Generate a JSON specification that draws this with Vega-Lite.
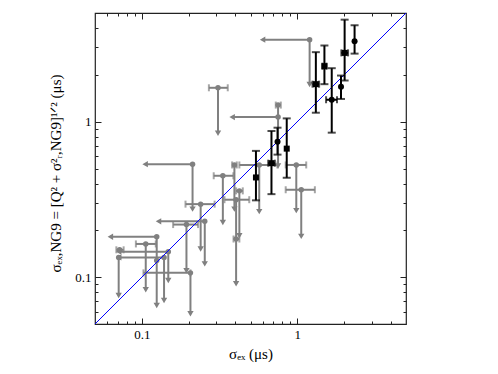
{
  "$schema": "https://vega.github.io/schema/vega-lite/v6.json",
  "width": 311,
  "height": 311,
  "autosize": {"type": "none"},
  "padding": {"left": 95, "top": 13, "right": 92, "bottom": 50},
  "config": {
    "view": {"stroke": "#222222", "strokeWidth": 1.2},
    "axis": {"domain": false, "grid": false, "tickColor": "#222222", "labelFont": "Liberation Serif", "labelFontSize": 13, "labelColor": "#000000", "titleFont": "Liberation Serif", "titleFontSize": 15, "titleFontWeight": "normal", "titleColor": "#000000"}
  },
  "datasets": {
    "diag": [{"v": 0.05}, {"v": 5}],
    "black": [
      {"x": 2.335, "y": 3.29, "ylo": 2.74, "yhi": 4.17, "m": "circle"},
      {"x": 2.015, "y": 2.77, "ylo": 1.84, "yhi": 4.53, "xlo": 1.92, "xhi": 2.12, "m": "square"},
      {"x": 1.91, "y": 1.68, "ylo": 1.40, "yhi": 1.98, "m": "circle"},
      {"x": 1.494, "y": 2.275, "ylo": 1.743, "yhi": 3.09, "xlo": 1.45, "xhi": 1.54, "m": "square"},
      {"x": 1.316, "y": 1.743, "ylo": 1.142, "yhi": 2.80, "xlo": 1.253, "xhi": 1.381, "m": "square"},
      {"x": 1.665, "y": 1.384, "ylo": 0.850, "yhi": 2.208, "xlo": 1.531, "xhi": 1.80, "m": "circle"},
      {"x": 0.855, "y": 0.671, "ylo": 0.436, "yhi": 1.05, "m": "square"},
      {"x": 0.746, "y": 0.744, "ylo": 0.614, "yhi": 0.915, "m": "circle"},
      {"x": 0.682, "y": 0.541, "ylo": 0.342, "yhi": 0.871, "xlo": 0.650, "xhi": 0.717, "m": "square"},
      {"x": 0.542, "y": 0.438, "ylo": 0.312, "yhi": 0.649, "m": "square"}
    ],
    "gray": [
      {"x": 1.20, "y": 3.37, "xlim": 0.598, "ylim": 1.735},
      {"x": 0.309, "y": 1.652, "xlo": 0.270, "xhi": 0.357, "ylim": 0.842},
      {"x": 0.752, "y": 1.279, "xlo": 0.727, "xhi": 0.783, "ylim": 0.519},
      {"x": 0.752, "y": 1.071, "xlim": 0.381},
      {"x": 0.212, "y": 0.533, "xlim": 0.105, "ylim": 0.274},
      {"x": 0.394, "y": 0.527, "xlo": 0.381, "xhi": 0.408, "ylim": 0.274},
      {"x": 0.569, "y": 0.527, "xlo": 0.424, "xhi": 0.745, "ylim": 0.264},
      {"x": 0.985, "y": 0.527, "xlo": 0.842, "xhi": 1.141, "ylim": 0.268},
      {"x": 1.06, "y": 0.365, "xlo": 0.842, "xhi": 1.297, "ylim": 0.183},
      {"x": 0.332, "y": 0.449, "xlo": 0.290, "xhi": 0.388, "ylim": 0.225},
      {"x": 0.424, "y": 0.359, "xlo": 0.404, "xhi": 0.446, "ylim": 0.185},
      {"x": 0.404, "y": 0.315, "xlo": 0.340, "xhi": 0.491, "ylim": 0.0906},
      {"x": 0.404, "y": 0.176, "xlo": 0.389, "xhi": 0.424},
      {"x": 0.239, "y": 0.295, "xlo": 0.191, "xhi": 0.294, "ylim": 0.152},
      {"x": 0.254, "y": 0.2286, "xlim": 0.128, "ylim": 0.1218},
      {"x": 0.1937, "y": 0.218, "xlo": 0.159, "xhi": 0.230, "ylim": 0.110},
      {"x": 0.1247, "y": 0.182, "xlim": 0.0628, "ylim": 0.0658},
      {"x": 0.106, "y": 0.1636, "xlo": 0.0916, "xhi": 0.123, "ylim": 0.083},
      {"x": 0.072, "y": 0.150, "xlo": 0.0686, "xhi": 0.0764},
      {"x": 0.148, "y": 0.146, "xlim": 0.071, "ylim": 0.0952},
      {"x": 0.139, "y": 0.134, "xlim": 0.071, "ylim": 0.0709},
      {"x": 0.071, "y": 0.134, "ylim": 0.0763},
      {"x": 0.1247, "y": 0.128},
      {"x": 0.2055, "y": 0.1066, "xlo": 0.1025, "xhi": 0.2055, "ylim": 0.0582}
    ]
  },
  "resolve": {"axis": {"x": "independent", "y": "independent"}},
  "layer": [
    {
      "data": {"name": "gray"},
      "transform": [{"filter": "isValid(datum.xlo)"}],
      "mark": {"type": "rule", "color": "#808080", "strokeWidth": 2},
      "encoding": {
        "x": {"field": "xlo", "type": "quantitative", "scale": {"type": "log", "domain": [0.05, 5], "nice": false},
              "axis": {"orient": "bottom", "values": [0.06, 0.07, 0.08, 0.09, 0.2, 0.3, 0.4, 0.5, 0.6, 0.7, 0.8, 0.9, 2, 3, 4], "labels": false, "tickSize": -3, "title": null}},
        "x2": {"field": "xhi"},
        "y": {"field": "y", "type": "quantitative", "scale": {"type": "log", "domain": [0.05, 5], "nice": false},
              "axis": {"orient": "left", "values": [0.06, 0.07, 0.08, 0.09, 0.2, 0.3, 0.4, 0.5, 0.6, 0.7, 0.8, 0.9, 2, 3, 4], "labels": false, "tickSize": -3, "title": null}}
      }
    },
    {
      "data": {"name": "gray"},
      "transform": [{"filter": "isValid(datum.xlo)"}],
      "mark": {"type": "tick", "orient": "vertical", "color": "#808080", "size": 7, "thickness": 2},
      "encoding": {
        "x": {"field": "xlo", "type": "quantitative", "scale": {"type": "log", "domain": [0.05, 5], "nice": false},
              "axis": {"orient": "top", "values": [0.1, 1], "labels": false, "tickSize": -6, "title": null}},
        "y": {"field": "y", "type": "quantitative", "scale": {"type": "log", "domain": [0.05, 5], "nice": false},
              "axis": {"orient": "right", "values": [0.1, 1], "labels": false, "tickSize": -6, "title": null}}
      }
    },
    {
      "data": {"name": "gray"},
      "transform": [{"filter": "isValid(datum.xhi)"}],
      "mark": {"type": "tick", "orient": "vertical", "color": "#808080", "size": 7, "thickness": 2},
      "encoding": {
        "x": {"field": "xhi", "type": "quantitative", "scale": {"type": "log", "domain": [0.05, 5], "nice": false},
              "axis": {"orient": "top", "values": [0.06, 0.07, 0.08, 0.09, 0.2, 0.3, 0.4, 0.5, 0.6, 0.7, 0.8, 0.9, 2, 3, 4], "labels": false, "tickSize": -3, "title": null}},
        "y": {"field": "y", "type": "quantitative", "scale": {"type": "log", "domain": [0.05, 5], "nice": false},
              "axis": {"orient": "right", "values": [0.06, 0.07, 0.08, 0.09, 0.2, 0.3, 0.4, 0.5, 0.6, 0.7, 0.8, 0.9, 2, 3, 4], "labels": false, "tickSize": -3, "title": null}}
      }
    },
    {
      "data": {"name": "gray"},
      "transform": [{"filter": "isValid(datum.xlim)"}],
      "mark": {"type": "rule", "color": "#808080", "strokeWidth": 2},
      "encoding": {
        "x": {"field": "xlim", "type": "quantitative", "scale": {"type": "log", "domain": [0.05, 5], "nice": false}, "axis": null},
        "x2": {"field": "x"},
        "y": {"field": "y", "type": "quantitative", "scale": {"type": "log", "domain": [0.05, 5], "nice": false}, "axis": null}
      }
    },
    {
      "data": {"name": "gray"},
      "transform": [{"filter": "isValid(datum.xlim)"}],
      "mark": {"type": "point", "shape": "triangle-left", "filled": true, "color": "#808080", "size": 40, "opacity": 1},
      "encoding": {
        "x": {"field": "xlim", "type": "quantitative", "scale": {"type": "log", "domain": [0.05, 5], "nice": false}, "axis": null},
        "y": {"field": "y", "type": "quantitative", "scale": {"type": "log", "domain": [0.05, 5], "nice": false}, "axis": null}
      }
    },
    {
      "data": {"name": "gray"},
      "transform": [{"filter": "isValid(datum.ylim)"}],
      "mark": {"type": "rule", "color": "#808080", "strokeWidth": 2},
      "encoding": {
        "x": {"field": "x", "type": "quantitative", "scale": {"type": "log", "domain": [0.05, 5], "nice": false}, "axis": null},
        "y": {"field": "ylim", "type": "quantitative", "scale": {"type": "log", "domain": [0.05, 5], "nice": false}, "axis": null},
        "y2": {"field": "y"}
      }
    },
    {
      "data": {"name": "gray"},
      "transform": [{"filter": "isValid(datum.ylim)"}],
      "mark": {"type": "point", "shape": "triangle-down", "filled": true, "color": "#808080", "size": 40, "opacity": 1},
      "encoding": {
        "x": {"field": "x", "type": "quantitative", "scale": {"type": "log", "domain": [0.05, 5], "nice": false}, "axis": null},
        "y": {"field": "ylim", "type": "quantitative", "scale": {"type": "log", "domain": [0.05, 5], "nice": false}, "axis": null}
      }
    },
    {
      "data": {"name": "gray"},
      "mark": {"type": "point", "shape": "circle", "filled": true, "color": "#808080", "size": 30, "opacity": 1},
      "encoding": {
        "x": {"field": "x", "type": "quantitative", "scale": {"type": "log", "domain": [0.05, 5], "nice": false}, "axis": null},
        "y": {"field": "y", "type": "quantitative", "scale": {"type": "log", "domain": [0.05, 5], "nice": false}, "axis": null}
      }
    },
    {
      "data": {"name": "diag"},
      "mark": {"type": "line", "color": "#0000ff", "strokeWidth": 1, "clip": true},
      "encoding": {
        "x": {"field": "v", "type": "quantitative", "scale": {"type": "log", "domain": [0.05, 5], "nice": false},
              "axis": {"orient": "bottom", "values": [0.1, 1], "tickSize": -6, "labelPadding": 10, "title": "σₑₓ (μs)", "titlePadding": 5}},
        "y": {"field": "v", "type": "quantitative", "scale": {"type": "log", "domain": [0.05, 5], "nice": false},
              "axis": {"orient": "left", "values": [0.1, 1], "tickSize": -6, "labelPadding": 10, "title": "σₑₓ,NG9 = [Q² + σ²ᵣ,NG9]¹ᐟ² (μs)", "titleX": -40, "titleY": 160, "titleAngle": 270, "titleAlign": "center", "titleBaseline": "middle"}}
      }
    },
    {
      "data": {"name": "black"},
      "mark": {"type": "rule", "color": "#000000", "strokeWidth": 2},
      "encoding": {
        "x": {"field": "x", "type": "quantitative", "scale": {"type": "log", "domain": [0.05, 5], "nice": false}, "axis": null},
        "y": {"field": "ylo", "type": "quantitative", "scale": {"type": "log", "domain": [0.05, 5], "nice": false}, "axis": null},
        "y2": {"field": "yhi"}
      }
    },
    {
      "data": {"name": "black"},
      "mark": {"type": "tick", "orient": "horizontal", "color": "#000000", "size": 8, "thickness": 2},
      "encoding": {
        "x": {"field": "x", "type": "quantitative", "scale": {"type": "log", "domain": [0.05, 5], "nice": false}, "axis": null},
        "y": {"field": "ylo", "type": "quantitative", "scale": {"type": "log", "domain": [0.05, 5], "nice": false}, "axis": null}
      }
    },
    {
      "data": {"name": "black"},
      "mark": {"type": "tick", "orient": "horizontal", "color": "#000000", "size": 8, "thickness": 2},
      "encoding": {
        "x": {"field": "x", "type": "quantitative", "scale": {"type": "log", "domain": [0.05, 5], "nice": false}, "axis": null},
        "y": {"field": "yhi", "type": "quantitative", "scale": {"type": "log", "domain": [0.05, 5], "nice": false}, "axis": null}
      }
    },
    {
      "data": {"name": "black"},
      "transform": [{"filter": "isValid(datum.xlo)"}],
      "mark": {"type": "rule", "color": "#000000", "strokeWidth": 2},
      "encoding": {
        "x": {"field": "xlo", "type": "quantitative", "scale": {"type": "log", "domain": [0.05, 5], "nice": false}, "axis": null},
        "x2": {"field": "xhi"},
        "y": {"field": "y", "type": "quantitative", "scale": {"type": "log", "domain": [0.05, 5], "nice": false}, "axis": null}
      }
    },
    {
      "data": {"name": "black"},
      "transform": [{"filter": "isValid(datum.xlo)"}],
      "mark": {"type": "tick", "orient": "vertical", "color": "#000000", "size": 7, "thickness": 2},
      "encoding": {
        "x": {"field": "xlo", "type": "quantitative", "scale": {"type": "log", "domain": [0.05, 5], "nice": false}, "axis": null},
        "y": {"field": "y", "type": "quantitative", "scale": {"type": "log", "domain": [0.05, 5], "nice": false}, "axis": null}
      }
    },
    {
      "data": {"name": "black"},
      "transform": [{"filter": "isValid(datum.xhi)"}],
      "mark": {"type": "tick", "orient": "vertical", "color": "#000000", "size": 7, "thickness": 2},
      "encoding": {
        "x": {"field": "xhi", "type": "quantitative", "scale": {"type": "log", "domain": [0.05, 5], "nice": false}, "axis": null},
        "y": {"field": "y", "type": "quantitative", "scale": {"type": "log", "domain": [0.05, 5], "nice": false}, "axis": null}
      }
    },
    {
      "data": {"name": "black"},
      "mark": {"type": "point", "filled": true, "color": "#000000", "size": 36, "opacity": 1},
      "encoding": {
        "x": {"field": "x", "type": "quantitative", "scale": {"type": "log", "domain": [0.05, 5], "nice": false}, "axis": null},
        "y": {"field": "y", "type": "quantitative", "scale": {"type": "log", "domain": [0.05, 5], "nice": false}, "axis": null},
        "shape": {"field": "m", "type": "nominal", "scale": {"domain": ["circle", "square"], "range": ["circle", "square"]}, "legend": null}
      }
    }
  ]
}
